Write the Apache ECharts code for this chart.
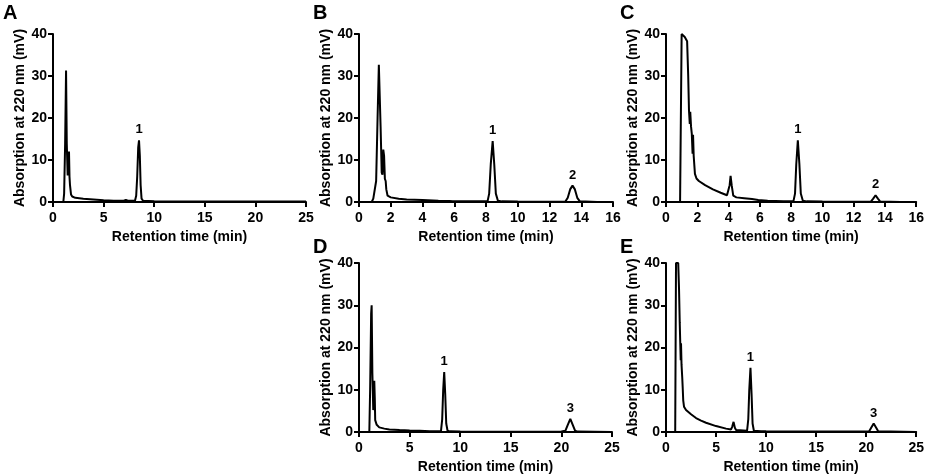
<!DOCTYPE html>
<html>
<head>
<meta charset="utf-8">
<script src="https://cdn.jsdelivr.net/npm/echarts@6/dist/echarts.min.js"></script>
<style>
html,body{margin:0;padding:0;background:#fff;}
#chart{width:927px;height:475px;}
</style>
</head>
<body>
<div id="chart"></div>
<script>
// ---- data (retention time min, absorption mV) ----
var chromA = [[0,0],[1.02,0],[1.1,2],[1.2,14],[1.29,31.3],[1.36,14],[1.45,6.3],[1.52,11],[1.58,12],[1.63,6],[1.68,4],[1.78,1.8],[1.9,1.3],[2.2,1.0],[3.0,0.8],[4.0,0.6],[5.0,0.4],[6.0,0.3],[7.0,0.3],[7.2,0.5],[7.4,0.3],[8.1,0.3],[8.22,1.5],[8.32,6],[8.42,13],[8.5,14.7],[8.58,11],[8.66,4],[8.75,0.8],[8.9,0.3],[10,0.15],[15,0.1],[20,0.1],[25,0.1]];
var chromB = [[0,0],[0.8,0],[0.9,0.8],[1.0,1.2],[1.08,5],[1.17,20],[1.25,32.7],[1.3,32.5],[1.36,18],[1.43,7],[1.48,6.5],[1.53,12.5],[1.58,11],[1.63,5.5],[1.68,5],[1.72,3],[1.8,1.5],[2.0,1.1],[2.5,0.8],[3,0.6],[4,0.45],[5,0.3],[5.7,0.25],[5.8,0.5],[5.9,0.2],[7,0.15],[8.1,0.2],[8.2,2],[8.3,9],[8.42,14.5],[8.52,9],[8.62,2],[8.75,0.3],[9,0.15],[10,0.1],[12,0.05],[13.0,0.1],[13.15,1],[13.3,3],[13.45,3.9],[13.6,3],[13.75,1],[13.9,0.2],[15,0]];
var chromC = [[0.9,0],[0.95,20],[1.0,40],[1.1,39.8],[1.2,39.3],[1.35,38.3],[1.42,30],[1.47,21.8],[1.52,18.6],[1.55,21.5],[1.6,18],[1.65,16.2],[1.7,11.5],[1.73,16],[1.77,11],[1.85,6.7],[1.95,5.6],[2.1,5],[2.5,4],[3,3],[3.5,2.2],[3.9,1.6],[4.0,1.8],[4.07,4],[4.13,6.2],[4.2,4],[4.3,1.5],[4.5,1.1],[5,0.9],[5.5,0.7],[5.9,0.5],[6,0.5],[6.5,0.3],[7.5,0.2],[8.15,0.2],[8.25,2],[8.33,9],[8.43,14.7],[8.53,9],[8.62,2],[8.75,0.3],[9,0.15],[10,0.1],[12,0.05],[13.1,0.1],[13.25,0.8],[13.4,1.6],[13.55,0.8],[13.7,0.1],[15,0]];
var chromD = [[0,0],[1.02,0],[1.1,10],[1.2,28],[1.25,30],[1.32,14],[1.41,5.2],[1.46,6],[1.51,12.1],[1.56,8],[1.6,2.8],[1.75,1.7],[2,1.1],[2.5,0.8],[3,0.6],[4,0.45],[5,0.35],[6,0.3],[7,0.2],[8.1,0.2],[8.22,3],[8.32,10],[8.42,14.2],[8.52,9],[8.62,2],[8.75,0.3],[9,0.15],[10,0.1],[15,0.05],[20,0.1],[20.4,0.3],[20.6,1.5],[20.88,3.1],[21.15,1.5],[21.35,0.3],[21.6,0.1],[25,0]];
var chromE = [[0.92,0],[0.96,20],[1.0,40],[1.22,40],[1.3,34],[1.37,26],[1.42,21.4],[1.47,17],[1.5,21],[1.55,16],[1.62,13],[1.67,10.4],[1.72,7.5],[1.8,6],[2.0,5.2],[2.5,4.2],[3,3.3],[3.5,2.7],[4,2.2],[5,1.4],[6,0.8],[6.5,0.6],[6.62,1.3],[6.75,2.4],[6.88,1.0],[7.0,0.5],[8.1,0.3],[8.22,3],[8.32,10],[8.44,15.2],[8.55,9],[8.65,2],[8.78,0.3],[9.5,0.2],[10,0.15],[15,0.1],[20,0.1],[20.3,0.2],[20.5,1],[20.75,2.0],[21.0,1],[21.2,0.2],[25,0]];

// peak labels [time, height, label]
var peaksA = [[8.5,14.7,'1']];
var peaksB = [[8.42,14.5,'1'],[13.45,3.9,'2']];
var peaksC = [[8.43,14.7,'1'],[13.4,1.6,'2']];
var peaksD = [[8.42,14.2,'1'],[20.88,3.1,'3']];
var peaksE = [[8.44,15.2,'1'],[20.75,2.0,'3']];

var panelLetters = ['A','B','C','D','E'];
var xMaxes = [25,16,16,25,25];
var xSteps = [5,2,2,5,5];
var yMax = 40, yStep = 10;
var xTitle = 'Retention time (min)';
var yTitle = 'Absorption at 220 nm (mV)';

var chroms = [chromA, chromB, chromC, chromD, chromE];
var peaks = [peaksA, peaksB, peaksC, peaksD, peaksE];

// ---- layout ----
var grids = [
  {left:53, top:34, width:253, height:168},
  {left:359, top:34, width:254, height:168},
  {left:666, top:34, width:253, height:168},
  {left:359, top:263, width:253, height:169},
  {left:666, top:263, width:253, height:169}
];
var letterPos = [[3,13],[313,13],[620,13],[313,247],[620,247]];

var FONT = 'Arial, "Liberation Sans", Helvetica, sans-serif';
var axisLineStyle = {color:'#000', width:2};

var xAxes = [], yAxes = [], series = [], graphics = [];
for (var i = 0; i < 5; i++) {
  xAxes.push({
    type:'value', gridIndex:i, min:0, max:xMaxes[i], interval:xSteps[i],
    name:xTitle, nameLocation:'middle', nameGap:28,
    nameTextStyle:{fontFamily:FONT, fontWeight:'bold', fontSize:14, color:'#000'},
    axisLine:{show:true, onZero:false, lineStyle:axisLineStyle},
    axisTick:{show:true, inside:false, length:5, lineStyle:axisLineStyle},
    axisLabel:{fontFamily:FONT, fontWeight:'bold', fontSize:14, color:'#000', margin:9},
    splitLine:{show:false}
  });
  yAxes.push({
    type:'value', gridIndex:i, min:0, max:yMax, interval:yStep,
    name:yTitle, nameLocation:'middle', nameGap:26,
    nameTextStyle:{fontFamily:FONT, fontWeight:'bold', fontSize:14, color:'#000'},
    axisLine:{show:true, lineStyle:axisLineStyle},
    axisTick:{show:true, inside:false, length:5, lineStyle:axisLineStyle},
    axisLabel:{fontFamily:FONT, fontWeight:'bold', fontSize:14, color:'#000', margin:6},
    splitLine:{show:false}
  });
  series.push({
    type:'line', xAxisIndex:i, yAxisIndex:i, data:chroms[i],
    showSymbol:false, symbol:'none', smooth:false, clip:true,
    lineStyle:{color:'#000', width:2}, silent:true, animation:false, z:3
  });
  series.push({
    type:'scatter', xAxisIndex:i, yAxisIndex:i,
    data:peaks[i].map(function(p){ return {value:[p[0],p[1]], name:p[2]}; }),
    symbolSize:0, silent:true, animation:false,
    label:{show:true, position:'top', distance:4, formatter:'{b}',
      fontFamily:FONT, fontWeight:'bold', fontSize:13, color:'#000',
      textBorderWidth:0, opacity:1}
  });
  graphics.push({
    type:'text', left:letterPos[i][0], top:letterPos[i][1]-10,
    style:{text:panelLetters[i], fontFamily:FONT, fontWeight:'bold', fontSize:20, fill:'#000'}
  });
}

var chart = echarts.init(document.getElementById('chart'));
chart.setOption({
  backgroundColor:'#fff',
  animation:false,
  grid:grids,
  xAxis:xAxes,
  yAxis:yAxes,
  series:series,
  graphic:graphics
});
</script>
</body>
</html>
